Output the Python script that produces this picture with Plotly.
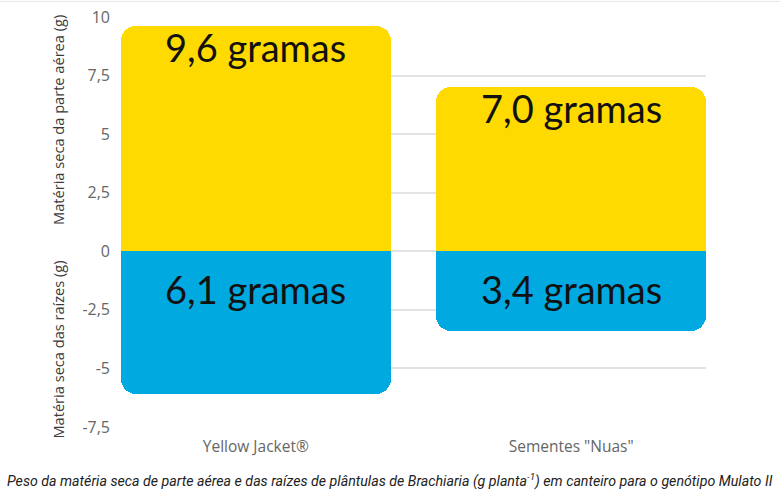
import plotly.graph_objects as go

# data
categories = ['Yellow Jacket®', 'Sementes "Nuas"']
parte_aerea = [9.6, 7.0]
raizes = [-6.1, -3.4]
aerea_labels = ['9,6 gramas', '7,0 gramas']
raizes_labels = ['6,1 gramas', '3,4 gramas']
tick_vals = [10, 7.5, 5, 2.5, 0, -2.5, -5, -7.5]
tick_text = ['10', '7,5', '5', '2,5', '0', '-2,5', '-5', '-7,5']

YELLOW = '#FFDA00'
BLUE = '#00A9E0'

fig = go.Figure()

fig.add_trace(go.Bar(
    x=categories, y=parte_aerea,
    marker=dict(color=YELLOW, line=dict(width=0), cornerradius=15),
    width=0.855, hoverinfo='skip'
))
fig.add_trace(go.Bar(
    x=categories, y=raizes,
    marker=dict(color=BLUE, line=dict(width=0), cornerradius=15),
    width=0.855, hoverinfo='skip'
))

# value labels inside the bars
for cat, v, lab in zip(categories, parte_aerea, aerea_labels):
    fig.add_annotation(x=cat, y=v, text=lab, showarrow=False, yanchor='middle',
                       yshift=-21, font=dict(family='Lato', size=38, color='#111'))
for cat, lab in zip(categories, raizes_labels):
    fig.add_annotation(x=cat, y=0, text=lab, showarrow=False, yanchor='middle',
                       yshift=-38, font=dict(family='Lato', size=38, color='#111'))

# the two y-axis titles
fig.add_annotation(xref='paper', yref='y', x=-0.108, xanchor='center', y=5.6,
                   text='Matéria seca da parte aérea (g)', textangle=-90, showarrow=False,
                   font=dict(family='Open Sans', size=14.6, color='#3a3a3a'))
fig.add_annotation(xref='paper', yref='y', x=-0.108, xanchor='center', y=-4.2,
                   text='Matéria seca das raízes (g)', textangle=-90, showarrow=False,
                   font=dict(family='Open Sans', size=14.6, color='#3a3a3a'))

# caption
fig.add_annotation(xref='paper', yref='paper', x=0.4598, xanchor='center', y=-0.103, yanchor='top',
                   text='<i>Peso da matéria seca de parte aérea e das raízes de plântulas de Brachiaria '
                        '(g planta<sup>-1</sup>) em canteiro para o genótipo Mulato II</i>',
                   showarrow=False, font=dict(family='Roboto', size=14.2, color='#222'))

fig.add_shape(type='line', xref='paper', yref='paper', x0=-0.3, x1=1.2, y0=1.038, y1=1.038,
              line=dict(color='#e6e6e6', width=1))

fig.update_layout(
    width=780, height=496,
    margin=dict(l=121, r=74, t=17, b=69),
    barmode='relative',
    bargap=0,
    showlegend=False,
    plot_bgcolor='white',
    paper_bgcolor='white',
    font=dict(family='Open Sans', color='#666'),
    xaxis=dict(range=[-0.4275, 1.4275], showgrid=False, zeroline=False, showline=False,
               tickfont=dict(size=15.5, color='#666'), ticks='', automargin=False,
               ticklabelstandoff=8),
    yaxis=dict(range=[-7.5, 10], tickvals=tick_vals, ticktext=tick_text,
               showgrid=True, gridcolor='#e3e3e3', gridwidth=1.5, zeroline=False,
               tickfont=dict(size=16, color='#666'), ticks='', ticklabelstandoff=10,
               automargin=False),
)

fig.write_html("out.html", config={'displayModeBar': False},
               post_script="document.body.style.margin='0';")
